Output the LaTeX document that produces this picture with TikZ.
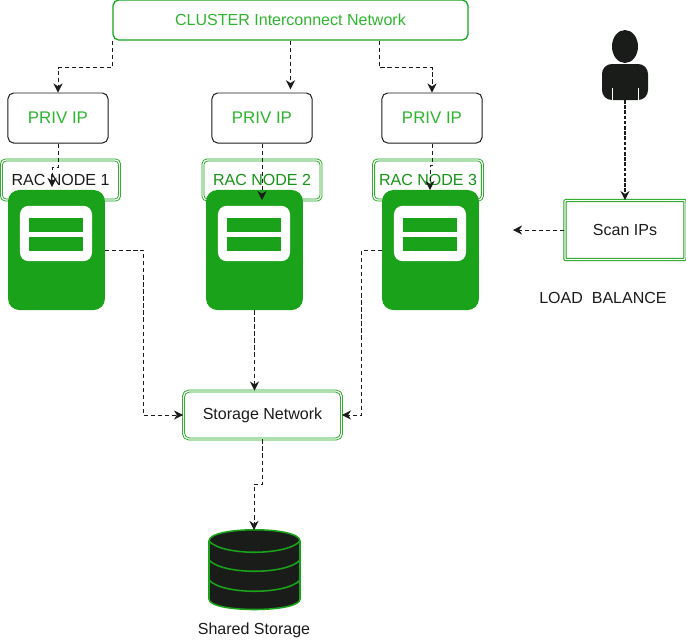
\documentclass[tikz,border=0pt]{standalone}
\usepackage{fontspec}
\setmainfont{Liberation Sans}
\usetikzlibrary{arrows.meta,positioning}
\definecolor{leaf}{HTML}{1AA31A}
\definecolor{lime}{HTML}{2FB52F}
\definecolor{ink}{HTML}{1A1C1A}
\begin{document}
\begin{tikzpicture}[x=.025cm,y=-.025cm,font=\fontsize{11.4pt}{13pt}\selectfont,>={Stealth[length=6.5pt,width=6.5pt]},
priv/.style={draw=ink,rounded corners=4pt,minimum width=2.5cm,minimum height=1.25cm,text=lime,line width=.7pt,font=\fontsize{12pt}{14pt}\selectfont},
rac/.style={draw=leaf,double=white,double distance=.9pt,line width=.6pt,rounded corners=3pt,minimum height=1cm},
server/.style={fill=leaf,rounded corners=8pt,minimum width=2.42cm,minimum height=3cm},
panel/.style={fill=white,rounded corners=6pt,minimum width=1.8cm,minimum height=1.38cm},
bar/.style={fill=leaf,minimum width=1.35cm,minimum height=.36cm},
link/.style={->,dashed,dash pattern=on 3pt off 2pt,ink,line width=.7pt}]
  \useasboundingbox (0,0) rectangle (686,641);
  % top row
  \node[draw=leaf,rounded corners=4pt,minimum width=8.87cm,minimum height=1cm,text=lime,line width=.9pt] (cluster) at (290.5,20) {CLUSTER Interconnect Network};
  \node[priv] (priv1) at (58,118) {PRIV IP};
  \node[priv] (priv2) at (262,118) {PRIV IP};
  \node[priv] (priv3) at (432,118) {PRIV IP};
  % rac nodes
  \node[rac,minimum width=2.95cm,text=ink] (rac1) at (60.5,180) {RAC NODE 1};
  \node[rac,minimum width=2.95cm,text=leaf!90!black] (rac2) at (262,180) {RAC NODE 2};
  \node[rac,minimum width=2.72cm,text=leaf!90!black] (rac3) at (428,180) {RAC NODE 3};
  \node[server] (server1) at (56.5,250) {};
  \node[panel] (panel1) at (56,233.5) {};
  \node[bar] (bar1a) at (56,225) {};
  \node[bar] (bar1b) at (56,244) {};
  \node[server] (server2) at (254.5,250) {};
  \node[panel] (panel2) at (254,233.5) {};
  \node[bar] (bar2a) at (254,225) {};
  \node[bar] (bar2b) at (254,244) {};
  \node[server] (server3) at (430.5,250) {};
  \node[panel] (panel3) at (430,233.5) {};
  \node[bar] (bar3a) at (430,225) {};
  \node[bar] (bar3b) at (430,244) {};
  % person
  \fill[ink] (625,46.5) ellipse (13 and 16.5);
  \fill[ink,rounded corners=7pt] (602,100) -- (602,64) -- (648,64) -- (648,100) -- cycle;
  \draw[white,line width=.5pt] (612,88) -- (612,100) (638,88) -- (638,100);
  \coordinate (person) at (625,100);
  % right side
  \node[draw=leaf,double=white,double distance=.9pt,line width=.7pt,rounded corners=.5pt,minimum width=3cm,minimum height=1.47cm,text=ink] (scan) at (625,230) {Scan IPs};
  \node[text=ink] (balance) at (603,298) {LOAD\ \ BALANCE};
  \coordinate (scanend) at (513,230);
  % storage
  \node[rac,rounded corners=4pt,minimum width=3.95cm,minimum height=1.2cm,text=ink] (storage) at (262.5,415) {Storage Network};
  \filldraw[ink,draw=leaf,line width=1.1pt] (209,541) .. controls (209,526) and (300,526) .. (300,541) -- (300,599) .. controls (300,613) and (209,613) .. (209,599) -- cycle;
  \draw[leaf,line width=1.1pt] (209,541) .. controls (222,556) and (287,556) .. (300,541);
  \draw[leaf,line width=1.1pt] (209,560) .. controls (222,575) and (287,575) .. (300,560);
  \draw[leaf,line width=1.1pt] (209,580) .. controls (222,595) and (287,595) .. (300,580);
  \coordinate (disk) at (254,530);
  \node[text=ink] (shared) at (254,630.5) {Shared Storage};
  \coordinate (in1) at (52,187);
  \coordinate (in2) at (262,200);
  \coordinate (in3) at (430,190);
  % connectors
  \draw[link] (cluster.south west) -- ++(0,27) -| (priv1.north);
  \draw[link] (cluster.south) -- ([yshift=.08cm]cluster.south |- priv2.north);
  \draw[link] ([xshift=2.22cm]cluster.south) -- ++(0,27) -| (priv3.north);
  \draw[link] (priv1.south) -- ++(0,24) -| (in1);
  \draw[link] (priv2.south) -- (in2);
  \draw[link] (priv3.south) -- ++(0,22) -| (in3);
  \draw[link] (server1.east) -- ++(38,0) |- (storage.west);
  \draw[link] (server2.south) -- (server2.south |- storage.north);
  \draw[link] (server3.west) -- ++(-20,0) |- (storage.east);
  \draw[link] (storage.south) -- ++(0,45) -| (disk);
  \draw[link,line width=1.2pt,dash pattern=on 2.5pt off 1.2pt] (person) -- (scan.north);
  \draw[link] (scan.west) -- (scanend);
\end{tikzpicture}
\end{document}
